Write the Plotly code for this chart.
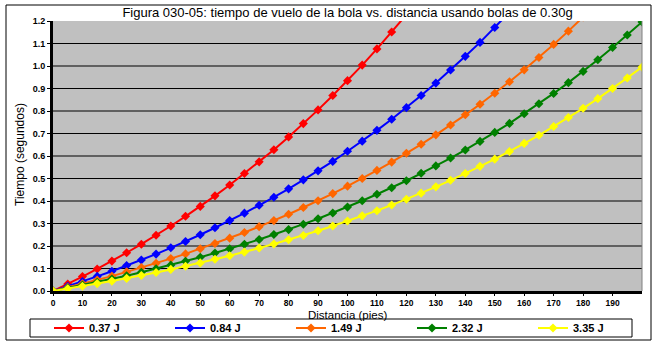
import plotly.graph_objects as go

# Distances (pies) sampled every 5 ft
dist_red = list(range(0, 125, 5))
dist_blue = list(range(0, 160, 5))
dist_orange = list(range(0, 185, 5))
dist_green = list(range(0, 205, 5))
dist_yellow = list(range(0, 205, 5))

# Flight time (segundos) for each launch energy
t_037 = [0.000, 0.031, 0.064, 0.098, 0.133, 0.170, 0.208, 0.248, 0.289, 0.332,
         0.376, 0.423, 0.471, 0.522, 0.574, 0.628, 0.685, 0.744, 0.805, 0.869,
         0.935, 1.004, 1.076, 1.151, 1.228]
t_084 = [0.000, 0.021, 0.042, 0.065, 0.088, 0.113, 0.138, 0.164, 0.192, 0.220,
         0.250, 0.281, 0.313, 0.346, 0.381, 0.417, 0.454, 0.494, 0.534, 0.576,
         0.621, 0.666, 0.714, 0.763, 0.815, 0.869, 0.924, 0.982, 1.043, 1.105,
         1.171, 1.239]
t_149 = [0.000, 0.016, 0.032, 0.049, 0.066, 0.085, 0.104, 0.123, 0.144, 0.165,
         0.188, 0.211, 0.235, 0.260, 0.286, 0.313, 0.341, 0.371, 0.401, 0.433,
         0.466, 0.500, 0.536, 0.573, 0.612, 0.652, 0.694, 0.738, 0.783, 0.830,
         0.879, 0.930, 0.983, 1.038, 1.096, 1.155, 1.218]
t_232 = [0.000, 0.013, 0.026, 0.039, 0.053, 0.068, 0.083, 0.099, 0.115, 0.132,
         0.150, 0.169, 0.188, 0.208, 0.229, 0.251, 0.273, 0.297, 0.321, 0.347,
         0.373, 0.401, 0.430, 0.459, 0.490, 0.523, 0.556, 0.591, 0.627, 0.665,
         0.705, 0.745, 0.788, 0.832, 0.878, 0.926, 0.976, 1.028, 1.082, 1.138,
         1.196]
t_335 = [0.000, 0.010, 0.021, 0.033, 0.044, 0.056, 0.069, 0.082, 0.096, 0.110,
         0.125, 0.141, 0.157, 0.173, 0.191, 0.209, 0.228, 0.247, 0.268, 0.289,
         0.311, 0.334, 0.357, 0.382, 0.408, 0.435, 0.463, 0.492, 0.522, 0.554,
         0.586, 0.620, 0.656, 0.692, 0.731, 0.771, 0.812, 0.855, 0.900, 0.947,
         0.995]

series_names = ["0.37 J", "0.84 J", "1.49 J", "2.32 J", "3.35 J"]
series_x = [dist_red, dist_blue, dist_orange, dist_green, dist_yellow]
series_y = [t_037, t_084, t_149, t_232, t_335]
series_colors = ["#FF0000", "#0000FF", "#FF6600", "#008000", "#FFFF00"]

x_ticks = list(range(0, 200, 10))
y_ticks = [round(0.1 * i, 1) for i in range(13)]

W, H = 657, 343
L, R, T, B = 53, 642, 21, 291  # plot area edges in pixels
LEGEND_X0, LEGEND_STEP, LEGEND_Y = 49, 121, 328


def px(xp):
    return (xp - L) / (R - L)


def py(yp):
    return (B - yp) / (B - T)


legend_font = dict(family="Liberation Sans", size=11, color="black", weight="bold")

fig = go.Figure()
legend_layout = {}
for i, (name, xs, ys, col) in enumerate(
        zip(series_names, series_x, series_y, series_colors)):
    key = "legend" if i == 0 else f"legend{i + 1}"
    fig.add_trace(go.Scatter(
        x=xs, y=ys, name=name, mode="lines+markers",
        line=dict(color=col, width=2),
        marker=dict(symbol="diamond", size=7, color=col),
        cliponaxis=True, legend=key,
    ))
    # one single-entry legend per series, laid out in a row
    legend_layout[key] = dict(
        orientation="h",
        xref="container", x=(LEGEND_X0 + LEGEND_STEP * i) / W, xanchor="left",
        yref="container", y=1 - LEGEND_Y / H, yanchor="middle",
        bgcolor="rgba(0,0,0,0)", borderwidth=0, font=legend_font,
    )

x_tick_font = dict(family="Liberation Sans", size=8.5, color="black", weight="bold")
y_tick_font = dict(family="Liberation Sans", size=9, color="black", weight="bold")

# horizontal grid lines between the axis and the top edge
grid_shapes = [
    dict(type="line", xref="paper", yref="y", x0=0, x1=1, y0=v, y1=v,
         line=dict(color="black", width=1), layer="below")
    for v in y_ticks[1:-1]
]

fig.update_layout(
    width=W, height=H,
    margin=dict(l=L, r=W - R, t=T, b=H - B, pad=0, autoexpand=False),
    paper_bgcolor="white",
    plot_bgcolor="#C0C0C0",
    title=dict(
        text="Figura 030-05: tiempo de vuelo de la bola vs. distancia usando bolas de 0.30g",
        font=dict(family="Liberation Sans", size=13, color="black"),
        x=0.5, xref="paper", xanchor="center",
        y=1 - 12 / H, yref="container", yanchor="middle",
    ),
    xaxis=dict(
        range=[0, 200], tickvals=x_ticks, ticks="outside", ticklen=2,
        tickwidth=1, tickcolor="black", tickfont=x_tick_font,
        showgrid=False, zeroline=False,
        showline=True, linecolor="black", linewidth=3,
    ),
    yaxis=dict(
        range=[0, 1.2], tickvals=y_ticks, tickformat=".1f", ticks="outside",
        ticklen=3, tickwidth=1, tickcolor="black", tickfont=y_tick_font,
        showgrid=False, zeroline=False,
        showline=True, linecolor="black", linewidth=3,
    ),
    showlegend=True,
    annotations=[
        dict(text="Distancia (pies)", xref="paper", yref="paper",
             x=px(347), y=py(315), xanchor="center", yanchor="middle",
             showarrow=False,
             font=dict(family="Liberation Sans", size=11.5, color="black")),
        dict(text="Tiempo (segundos)", xref="paper", yref="paper",
             x=px(20), y=py(155), xanchor="center", yanchor="middle",
             textangle=-90, showarrow=False,
             font=dict(family="Liberation Sans", size=12, color="black")),
    ],
    shapes=grid_shapes + [
        # outer chart frame
        dict(type="rect", xref="paper", yref="paper",
             x0=px(6), x1=px(651), y0=py(340), y1=py(5),
             line=dict(color="black", width=1), fillcolor="rgba(0,0,0,0)",
             layer="below"),
        # plot area right edge
        dict(type="line", xref="paper", yref="paper",
             x0=1, x1=1, y0=0, y1=1, line=dict(color="#808080", width=1)),
        # legend box
        dict(type="rect", xref="paper", yref="paper",
             x0=px(30), x1=px(632), y0=py(337), y1=py(319),
             line=dict(color="black", width=1), fillcolor="white",
             layer="below"),
    ],
    **legend_layout,
)

fig.write_html("out.html")
